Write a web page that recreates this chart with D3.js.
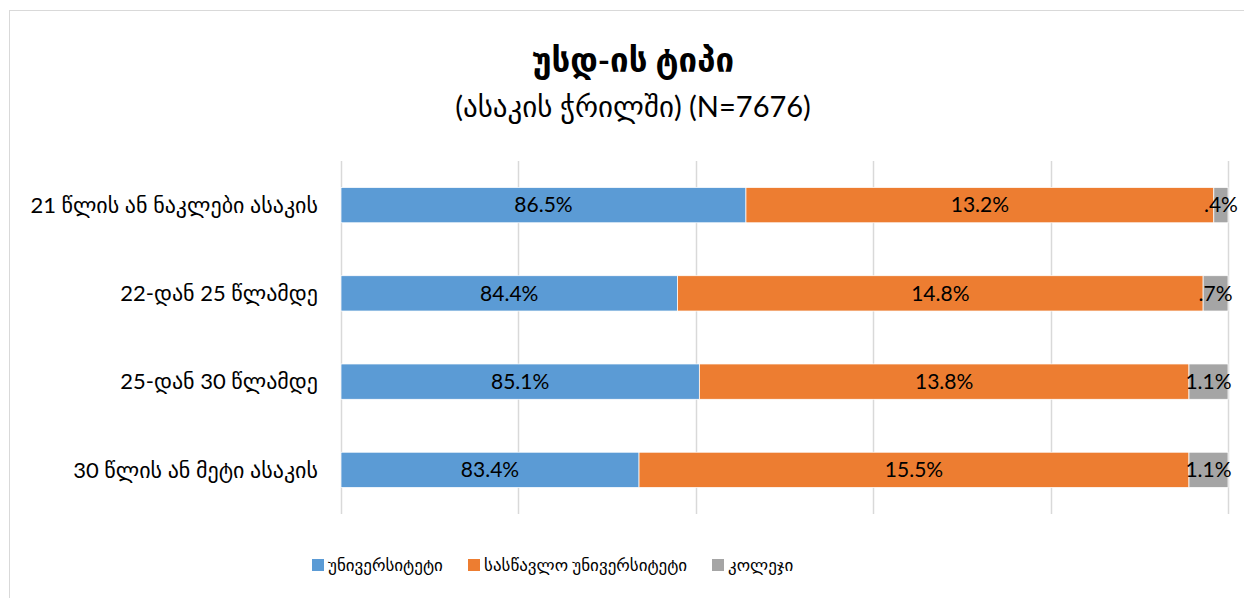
<!DOCTYPE html>
<html>
<head>
<meta charset="utf-8">
<script src="https://cdn.jsdelivr.net/npm/d3@7"></script>
<style>
  html, body { margin: 0; padding: 0; background: #fff; }
  svg { display: block; font-family: Lato, "DejaVu Sans", sans-serif; }
</style>
</head>
<body>
<div id="chart"></div>
<script>
// chart data
const categories = [
    "21 წლის ან ნაკლები ასაკის",
    "22-დან 25 წლამდე",
    "25-დან 30 წლამდე",
    "30 წლის ან მეტი ასაკის"
];
const seriesNames = ["უნივერსიტეტი", "სასწავლო უნივერსიტეტი", "კოლეჯი"];
const university = [86.5, 84.4, 85.1, 83.4];
const teachingUniversity = [13.2, 14.8, 13.8, 15.5];
const college = [0.4, 0.7, 1.1, 1.1];
const valueLabels = [
    ["86.5%", "84.4%", "85.1%", "83.4%"],
    ["13.2%", "14.8%", "13.8%", "15.5%"],
    [".4%", ".7%", "1.1%", "1.1%"]
];
const axisTicks = [75, 80, 85, 90, 95, 100];
const colors = ["#5b9bd5", "#ed7d31", "#a5a5a5"];

const width = 1244, height = 598;
const margin = { left: 341, right: 16, top: 161, bottom: 84 };

const svg = d3.select("#chart").append("svg")
    .attr("width", width)
    .attr("height", height);

// outer frame
svg.append("rect")
    .attr("x", 9.5).attr("y", 10.5)
    .attr("width", width + 20).attr("height", height + 20)
    .attr("fill", "none").attr("stroke", "#d9d9d9");

// titles
svg.append("text")
    .attr("x", 633).attr("y", 72)
    .attr("text-anchor", "middle")
    .attr("font-size", 33).attr("font-weight", "bold")
    .attr("fill", "#000")
    .text("უსდ-ის ტიპი");
svg.append("text")
    .attr("x", 633).attr("y", 117)
    .attr("text-anchor", "middle")
    .attr("font-size", 29)
    .attr("fill", "#000")
    .text("(ასაკის ჭრილში) (N=7676)");

// 100% stacked, axis shown from 75% to 100%
const x = d3.scaleLinear()
    .domain([75, 100])
    .range([margin.left, width - margin.right]);

const y = d3.scaleBand()
    .domain(categories)
    .range([margin.top, height - margin.bottom])
    .paddingInner(0.6)
    .paddingOuter(0.3);

// gridlines
svg.append("g")
    .selectAll("line")
    .data(axisTicks)
    .join("line")
    .attr("x1", d => Math.round(x(d)) + 0.5)
    .attr("x2", d => Math.round(x(d)) + 0.5)
    .attr("y1", margin.top)
    .attr("y2", height - margin.bottom)
    .attr("stroke", "#d9d9d9")
    .attr("stroke-width", 1.5);

// stacked rows, normalised to 100
const rows = categories.map((c, i) => {
    const vals = [university[i], teachingUniversity[i], college[i]];
    const total = d3.sum(vals);
    let start = 0;
    return vals.map((v, k) => {
        const share = v / total * 100;
        const seg = { cat: c, k, i, x0: start, x1: start + share };
        start += share;
        return seg;
    });
}).flat();

const clampX = v => x(Math.max(75, Math.min(100, v)));

svg.append("g")
    .selectAll("rect")
    .data(rows)
    .join("rect")
    .attr("x", d => clampX(d.x0))
    .attr("y", d => y(d.cat))
    .attr("width", d => clampX(d.x1) - clampX(d.x0))
    .attr("height", y.bandwidth())
    .attr("fill", d => colors[d.k])
    .attr("stroke", "#fff")
    .attr("stroke-width", 0.75);

svg.append("g")
    .selectAll("text")
    .data(rows)
    .join("text")
    .attr("x", d => (clampX(d.x0) + clampX(d.x1)) / 2)
    .attr("y", d => y(d.cat) + y.bandwidth() / 2)
    .attr("dy", "0.35em")
    .attr("text-anchor", "middle")
    .attr("font-size", 21)
    .attr("fill", "#000")
    .text(d => valueLabels[d.k][d.i]);

// category labels
svg.append("g")
    .selectAll("text")
    .data(categories)
    .join("text")
    .attr("x", 318)
    .attr("y", d => y(d) + y.bandwidth() / 2)
    .attr("dy", "0.35em")
    .attr("text-anchor", "end")
    .attr("font-size", 22)
    .attr("fill", "#000")
    .text(d => d);

// legend
const legendX = [312, 468, 712];
const legend = svg.append("g")
    .selectAll("g")
    .data(seriesNames)
    .join("g")
    .attr("transform", (d, i) => `translate(${legendX[i]},559)`);
legend.append("rect")
    .attr("width", 12).attr("height", 12)
    .attr("fill", (d, i) => colors[i]);
legend.append("text")
    .attr("x", 16).attr("y", 6)
    .attr("dy", "0.35em")
    .attr("font-size", 17)
    .attr("fill", "#000")
    .text(d => d);
</script>
</body>
</html>
